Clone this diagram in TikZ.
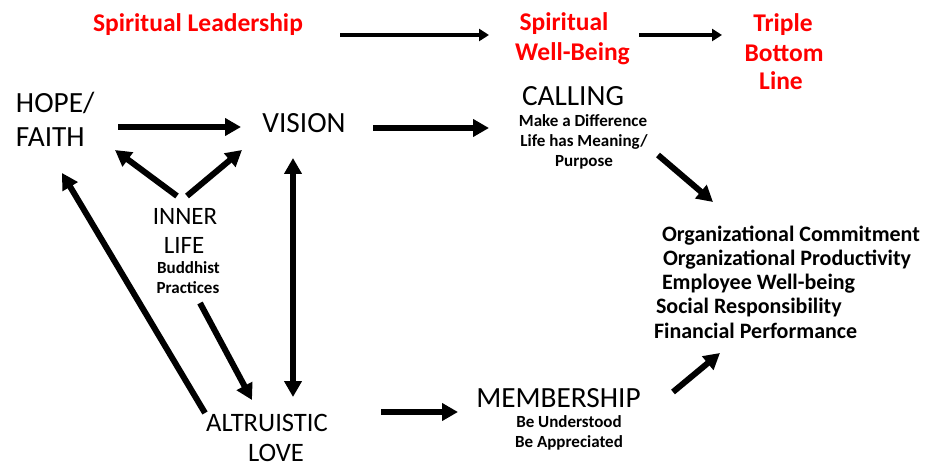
\documentclass[tikz,border=0pt]{standalone}
\usepackage{fontspec}
\setmainfont{Carlito}
\usetikzlibrary{arrows.meta}
\begin{document}
\begin{tikzpicture}[x=1pt,y=-1pt,
  txt/.style={anchor=base,inner sep=0pt,outer sep=0pt},
  big/.style={txt,font=\fontsize{29.3}{35}\selectfont},
  mid/.style={txt,font=\fontsize{25}{30}\selectfont},
  alt/.style={txt,font=\fontsize{26.6}{32}\selectfont},
  head/.style={txt,text=red,font=\fontsize{25.5}{30.5}\selectfont\bfseries},
  small/.style={txt,font=\fontsize{17}{20.5}\selectfont\bfseries},
  result/.style={txt,anchor=base west,font=\fontsize{22}{25}\selectfont\bfseries},
  bigarrow/.style={line width=6pt,-{Triangle[length=16pt,width=17pt]}},
  botharrow/.style={line width=6pt,{Triangle[length=16pt,width=17pt]}-{Triangle[length=16pt,width=17pt]}},
  toparrow/.style={line width=3.8pt,-{Triangle[length=10pt,width=12pt]}}
]
\useasboundingbox (0,0) rectangle (934,465);
\fill[white] (0,0) rectangle (934,465);

% headings
\node[head] (sl) at (198,31.5) {Spiritual Leadership};
\node[head] (swbA) at (564,31) {Spiritual};
\node[head] (swbB) at (572.5,61) {Well-Being};
\node[head] (tblA) at (783,32) {Triple};
\node[head] (tblB) at (784,62) {Bottom};
\node[head] (tblC) at (781,90) {Line};

% main labels
\node[big,anchor=base west] (hopeA) at (16,113) {HOPE/};
\node[big,anchor=base west] (hopeB) at (16,147) {FAITH};
\node[big] (vision) at (304,133) {VISION};
\node[big] (calling) at (573,106) {CALLING};
\node[small] (callA) at (583,127) {Make a Difference};
\node[small] (callB) at (584,147) {Life has Meaning/};
\node[small] (callC) at (584,167) {Purpose};
\node[mid] (innerA) at (185,224) {INNER};
\node[mid] (innerB) at (184,253) {LIFE};
\node[small] (budA) at (188.5,273) {Buddhist};
\node[small] (budB) at (188,293) {Practices};
\node[alt] (altA) at (267,431) {ALTRUISTIC};
\node[alt] (altB) at (276,461) {LOVE};
\node[big] (member) at (558.5,407) {MEMBERSHIP};
\node[small] (memA) at (569,427) {Be Understood};
\node[small] (memB) at (569,447) {Be Appreciated};

% outcomes
\node[result] (resA) at (662,241) {Organizational Commitment};
\node[result] (resB) at (663,265) {Organizational Productivity};
\node[result] (resC) at (662,289) {Employee Well-being};
\node[result] (resD) at (656,313.5) {Social Responsibility};
\node[result] (resE) at (654,338) {Financial Performance};

% connector end points
\coordinate (slR) at (340,35);
\coordinate (swbL) at (489,35);
\coordinate (swbR) at (639,35);
\coordinate (tblL) at (722,35);
\coordinate (hopeR) at (118,127);
\coordinate (visL) at (241,127);
\coordinate (visR) at (373,128);
\coordinate (callL) at (489,128);
\coordinate (innerUL) at (177,196);
\coordinate (hopeBR) at (115,150);
\coordinate (innerUR) at (187,196);
\coordinate (visBL) at (242,150);
\coordinate (visB) at (293,158);
\coordinate (altT) at (293,397);
\coordinate (budBot) at (200,303);
\coordinate (altTL) at (252,400);
\coordinate (altL) at (205,413);
\coordinate (hopeBot) at (62,173);
\coordinate (altR) at (381,412);
\coordinate (memL) at (458,412);
\coordinate (callBR) at (658,155);
\coordinate (resTL) at (713,202);
\coordinate (memR) at (673,392);
\coordinate (resBL) at (720,353);

% connectors
\draw[toparrow] (slR) -- (swbL);
\draw[toparrow] (swbR) -- (tblL);
\draw[bigarrow] (hopeR) -- (visL);
\draw[bigarrow] (visR) -- (callL);
\draw[bigarrow] (innerUL) -- (hopeBR);
\draw[bigarrow] (innerUR) -- (visBL);
\draw[botharrow] (visB) -- (altT);
\draw[bigarrow] (budBot) -- (altTL);
\draw[bigarrow] (altL) -- (hopeBot);
\draw[bigarrow] (altR) -- (memL);
\draw[bigarrow] (callBR) -- (resTL);
\draw[bigarrow] (memR) -- (resBL);
\end{tikzpicture}
\end{document}
